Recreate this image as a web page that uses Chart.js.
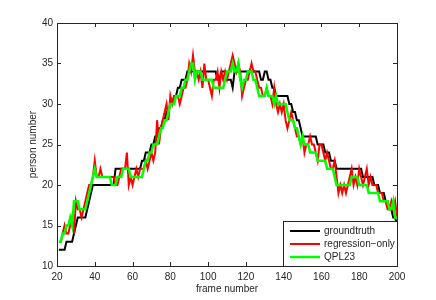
<!DOCTYPE html>
<html>
<head>
<meta charset="utf-8">
<script src="https://cdn.jsdelivr.net/npm/chart.js@4.4.0/dist/chart.umd.min.js"></script>
<style>
  html, body { margin: 0; padding: 0; background: #fff; }
  #wrap { width: 436px; height: 300px; }
</style>
</head>
<body>
<div id="wrap"><canvas id="grafico" width="436" height="300"></canvas></div>
<script>
// frames 21..200
const primeiroFrame = 21;
const ultimoFrame = 200;

const groundtruth = [
  12,12,12,12,13,13,13,13,14,15,
  16,16,16,16,16,17,18,19,20,20,
  20,20,20,20,20,20,20,20,20,20,
  22,22,22,22,22,22,22,22,22,22,
  22,22,22,22,23,23,24,24,24,25,
  25,26,26,27,27,28,28,29,29,30,
  30,31,31,32,32,33,33,33,34,34,
  34,34,34,34,34,34,34,34,34,34,
  34,34,34,34,33,33,34,34,34,33,
  33,33,32,34,34,34,34,34,34,34,
  34,34,34,34,34,34,34,33,33,34,
  34,33,33,32,32,31,31,31,31,31,
  31,31,30,30,29,29,28,28,27,26,
  26,26,26,26,26,26,26,25,25,25,
  25,24,24,24,23,23,23,22,22,22,
  22,22,22,22,22,22,22,22,22,22,
  22,21,21,21,21,21,21,20,20,20,
  19,19,19,18,18,17,17,16,16,15
];

const regressionOnly = [
  13,13,14,15,14,14,15,16,14,18,
  17,17,16,17,18,19,20,20,21,23,
  21,21,22,21,21,21,21,21,21,21,
  20,20,21,22,22,22,24,20,21,20,
  21,22,21,22,22,22,23,22,23,24,
  23,24,28,25,27,28,29,30,28,31,
  30,31,31,31,30,31,32,32,33,35,
  34,36,34,34,33,34,32,35,33,33,
  32,31,33,33,34,32,34,33,34,33,
  34,35,36,35,34,35,34,31,32,33,
  33,34,35,34,34,33,32,32,31,31,
  32,31,31,30,32,30,29,30,29,30,
  28,27,28,29,28,27,26,26,25,26,
  24,25,25,26,25,25,24,23,25,25,
  24,23,24,23,22,22,23,21,19,20,
  19,20,19,20,21,22,20,21,20,22,
  21,20,21,22,20,21,20,20,20,19,
  19,19,18,18,17,17,18,17,18,16
];

const qpl23 = [
  13,13,14,14,15,15,16,15,18,18,
  18,17,17,17,17,18,19,20,21,22,
  21,21,21,21,21,21,21,21,20,20,
  20,21,21,21,22,22,22,22,21,21,
  21,21,21,21,21,22,23,23,24,24,
  25,25,25,26,27,27,28,28,29,30,
  30,30,31,31,31,32,32,33,33,34,
  35,35,33,34,34,34,33,33,33,33,
  33,33,32,32,32,32,32,32,33,34,
  34,34,35,34,34,35,33,32,33,33,
  34,34,34,33,33,32,31,31,31,31,
  32,31,31,31,30,31,30,30,30,30,
  30,29,28,28,28,27,27,26,25,26,
  25,25,25,24,24,24,24,23,23,23,
  23,23,22,22,22,22,21,20,20,20,
  20,20,20,20,20,21,21,21,21,20,
  20,20,20,20,19,19,19,19,19,19,
  18,18,18,18,18,17,17,18,16,16
];

const xTicks = [20, 40, 60, 80, 100, 120, 140, 160, 180, 200];
const yTicks = [10, 15, 20, 25, 30, 35, 40];

const frames = [];
for (let f = primeiroFrame; f <= ultimoFrame; f++) frames.push(f);

const pontos = serie => serie.map((v, i) => ({ x: frames[i], y: v }));

const fonte = { family: '"Liberation Sans", Arial, Helvetica, sans-serif', size: 10 };
const corTexto = '#262626';

// caixa estilo MATLAB com ticks para dentro, e a legenda no canto inferior direito
const caixaMatlab = {
  id: 'caixaMatlab',
  afterDatasetsDraw(chart) {
    const { ctx, chartArea: a, scales } = chart;
    ctx.save();
    ctx.strokeStyle = corTexto;
    ctx.lineWidth = 1;
    const t = 4;
    ctx.beginPath();
    xTicks.forEach(v => {
      const x = Math.round(scales.x.getPixelForValue(v)) + 0.5;
      ctx.moveTo(x, a.bottom); ctx.lineTo(x, a.bottom - t);
      ctx.moveTo(x, a.top); ctx.lineTo(x, a.top + t);
    });
    yTicks.forEach(v => {
      const y = Math.round(scales.y.getPixelForValue(v)) + 0.5;
      ctx.moveTo(a.left, y); ctx.lineTo(a.left + t, y);
      ctx.moveTo(a.right, y); ctx.lineTo(a.right - t, y);
    });
    ctx.stroke();
    ctx.strokeRect(Math.round(a.left) + 0.5, Math.round(a.top) + 0.5,
      Math.round(a.right - a.left), Math.round(a.bottom - a.top));

    // legenda
    const lx = 283.5, ly = 221.5, lw = Math.round(a.right) - 283, lh = Math.round(a.bottom) - 221;
    ctx.fillStyle = '#fff';
    ctx.fillRect(lx, ly, lw, lh);
    ctx.strokeStyle = corTexto;
    ctx.strokeRect(lx, ly, lw, lh);
    const linhas = [231, 244, 257];
    ctx.font = '10px ' + fonte.family;
    ctx.textBaseline = 'middle';
    chart.data.datasets.forEach((ds, i) => {
      ctx.strokeStyle = ds.borderColor;
      ctx.lineWidth = ds.borderWidth;
      ctx.beginPath();
      ctx.moveTo(290, linhas[i]);
      ctx.lineTo(320, linhas[i]);
      ctx.stroke();
      ctx.fillStyle = corTexto;
      ctx.fillText(ds.label, 324, linhas[i]);
    });
    ctx.restore();
  }
};

const ctx = document.getElementById('grafico').getContext('2d');

new Chart(ctx, {
  type: 'line',
  data: {
    datasets: [
      { label: 'groundtruth', data: pontos(groundtruth), borderColor: '#000000', borderWidth: 2, order: 3 },
      { label: 'regression\u2212only', data: pontos(regressionOnly), borderColor: '#ff0000', borderWidth: 2, order: 2 },
      { label: 'QPL23', data: pontos(qpl23), borderColor: '#00ff00', borderWidth: 2.5, order: 1 }
    ]
  },
  options: {
    responsive: false,
    animation: false,
    layout: { padding: { left: 0, right: 39, top: 23, bottom: 0 } },
    elements: {
      point: { radius: 0 },
      line: { tension: 0, borderJoinStyle: 'miter', borderCapStyle: 'butt' }
    },
    plugins: {
      legend: { display: false },
      tooltip: { enabled: false }
    },
    scales: {
      x: {
        type: 'linear',
        min: 20,
        max: 200,
        afterBuildTicks: s => { s.ticks = xTicks.map(v => ({ value: v })); },
        afterFit: s => { s.height = 34; },
        grid: { display: false, drawTicks: false },
        border: { display: false },
        ticks: { font: fonte, color: corTexto, padding: 5, maxRotation: 0, autoSkip: false },
        title: { display: true, text: 'frame number', font: fonte, color: corTexto, padding: { top: 0, bottom: 5 } }
      },
      y: {
        type: 'linear',
        min: 10,
        max: 40,
        afterBuildTicks: s => { s.ticks = yTicks.map(v => ({ value: v })); },
        afterFit: s => { s.width = 57; },
        grid: { display: false, drawTicks: false },
        border: { display: false },
        ticks: { font: fonte, color: corTexto, padding: 4 },
        title: { display: true, text: 'person number', font: fonte, color: corTexto, padding: { top: 27, bottom: 0 } }
      }
    }
  },
  plugins: [caixaMatlab]
});
</script>
</body>
</html>
